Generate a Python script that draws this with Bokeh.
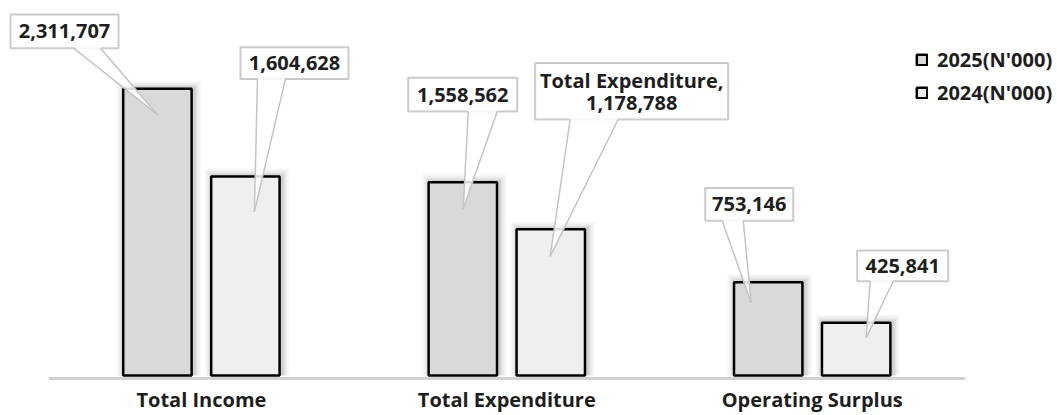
from bokeh.plotting import figure
from bokeh.models import Range1d, FixedTicker, Legend, LegendItem
from bokeh.core.properties import value
from bokeh.embed import file_html
from bokeh.resources import INLINE

# ---------------- data ----------------
categories = ["Total Income", "Total Expenditure", "Operating Surplus"]
series_names = ["2025(N'000)", "2024(N'000)"]
values_2025 = [2311707, 1558562, 753146]
values_2024 = [1604628, 1178788, 425841]
label_prefix_2025 = ["", "", ""]
label_prefix_2024 = ["", "Total Expenditure,\n", ""]

# ---------------- layout / style constants ----------------
W, H = 1057, 415
FRAME_H = 384          # frame height in px
BASE_PX = 378          # pixel row of value 0
PX_PER_CAT = 305.4     # px per category slot
LEFT_PX = 48.2         # px of left edge of first category slot
Y_PER_PX = 8000.0      # data units per px vertically
DODGE = 0.144
BAR_W = 0.224
FONT = value("Open Sans")
C2025 = "#d9d9d9"
C2024 = "#efefef"

def dx(px):
    return px / PX_PER_CAT

def dy(px):
    return px * Y_PER_PX

# callout geometry in px relative to bar top centre:
# (box_cx, box_cy, box_w, box_h, base_x0, base_x1 (rel. box centre), tip_x, tip_y)
callouts_2025 = [(-92.9, -58.0, 108, 34, 9, 36, 0, 26),
                 (-0.1, -88.2, 109, 34, 5.5, 34.5, 0.4, 26.8),
                 (-19.0, -78.4, 88, 33, -27, -6, -17, 21)]
callouts_2024 = [(49.1, -114.4, 108, 32, -37, -9, 9, 35.6),
                 (80.9, -139.2, 193, 57, -61.5, -13.5, -0.6, 27.3),
                 (46.5, -57.3, 91, 31, -32.5, -9.5, 10, 15.2)]

p = figure(width=W, height=H, output_backend="svg", toolbar_location=None,
           x_range=Range1d(-LEFT_PX / PX_PER_CAT, (W - LEFT_PX) / PX_PER_CAT),
           y_range=Range1d(-(FRAME_H - BASE_PX) * Y_PER_PX, BASE_PX * Y_PER_PX),
           y_axis_location=None,
           min_border_left=0, min_border_right=0, min_border_top=0,
           min_border_bottom=H - FRAME_H)
p.xgrid.visible = False
p.ygrid.visible = False
p.outline_line_color = None
p.background_fill_color = "white"
p.border_fill_color = "white"

centers = [i + 0.5 for i in range(len(categories))]
x25 = [c - DODGE for c in centers]
x24 = [c + DODGE for c in centers]

# baseline
p.segment(x0=[0], y0=[-dy(3)], x1=[len(categories)], y1=[-dy(3)],
          line_color="#d2d2d2", line_width=3)

# soft glow behind bars
for xs, vals in ((x25, values_2025), (x24, values_2024)):
    for k, a in ((8, 0.03), (6, 0.04), (4, 0.05), (2.5, 0.07)):
        p.quad(left=[x - BAR_W / 2 - dx(k) + dx(1.5) for x in xs],
               right=[x + BAR_W / 2 + dx(k) + dx(1.5) for x in xs],
               top=[v + dy(k) for v in vals], bottom=[0] * len(xs),
               fill_color="black", fill_alpha=a, line_color=None)

r25 = p.vbar(x=x25, top=values_2025, bottom=0, width=BAR_W,
             fill_color=C2025, line_color="black", line_width=2.5)
r24 = p.vbar(x=x24, top=values_2024, bottom=0, width=BAR_W,
             fill_color=C2024, line_color="black", line_width=2.5)

# callouts
bl, br, bt, bb = [], [], [], []
px_, py_ = [], []
lx, ly = [], []
tx, ty, tt = [], [], []
for xs, vals, specs, prefixes in ((x25, values_2025, callouts_2025, label_prefix_2025),
                                  (x24, values_2024, callouts_2024, label_prefix_2024)):
    for x, v, s, pre in zip(xs, vals, specs, prefixes):
        cx, cy, w, h, b0, b1, tipx, tipy = s
        bx = x + dx(cx)
        by = v - dy(cy)
        bl.append(bx - dx(w / 2)); br.append(bx + dx(w / 2))
        bt.append(by + dy(h / 2)); bb.append(by - dy(h / 2))
        bottom = by - dy(h / 2)
        tipX = x + dx(tipx)
        tipY = v - dy(tipy)
        px_.append([bx + dx(b0), bx + dx(b1), tipX])
        py_.append([bottom + dy(1.5), bottom + dy(1.5), tipY])
        lx.append([bx + dx(b0), tipX]); ly.append([bottom, tipY])
        lx.append([bx + dx(b1), tipX]); ly.append([bottom, tipY])
        tx.append(bx); ty.append(by); tt.append(pre + f"{v:,}")

p.quad(left=bl, right=br, top=bt, bottom=bb, fill_color="white",
       line_color="#cbcbcb", line_width=2)
p.patches(xs=px_, ys=py_, fill_color="white", fill_alpha=0.85, line_color=None)
p.multi_line(xs=lx, ys=ly, line_color="#c4c4c4", line_width=1.5)
p.text(x=tx, y=ty, text=tt, text_font=FONT, text_font_style="bold",
       text_font_size="20px", text_color="#1e1e1e", text_align="center",
       text_baseline="middle", text_line_height=0.82)

# x axis with category labels
ax = p.xaxis[0]
ax.ticker = FixedTicker(ticks=centers)
ax.major_label_overrides = {c: n for c, n in zip(centers, categories)}
ax.axis_line_color = None
ax.major_tick_line_color = None
ax.minor_tick_line_color = None
ax.major_tick_out = 0
ax.major_tick_in = 0
ax.major_label_standoff = 4
ax.major_label_text_font = "Open Sans"
ax.major_label_text_font_style = "bold"
ax.major_label_text_font_size = "20px"
ax.major_label_text_color = "#1e1e1e"

legend = Legend(items=[LegendItem(label=series_names[0], renderers=[r25]),
                       LegendItem(label=series_names[1], renderers=[r24])],
                location=(915, 275), orientation="vertical",
                glyph_width=13, glyph_height=13, label_height=22, spacing=6,
                padding=0, margin=0, border_line_color=None,
                background_fill_alpha=0, label_standoff=9,
                label_text_font="Open Sans", label_text_font_style="bold",
                label_text_font_size="20px", label_text_color="#1e1e1e")
p.add_layout(legend)

open("out.html", "w").write(file_html(p, INLINE))
